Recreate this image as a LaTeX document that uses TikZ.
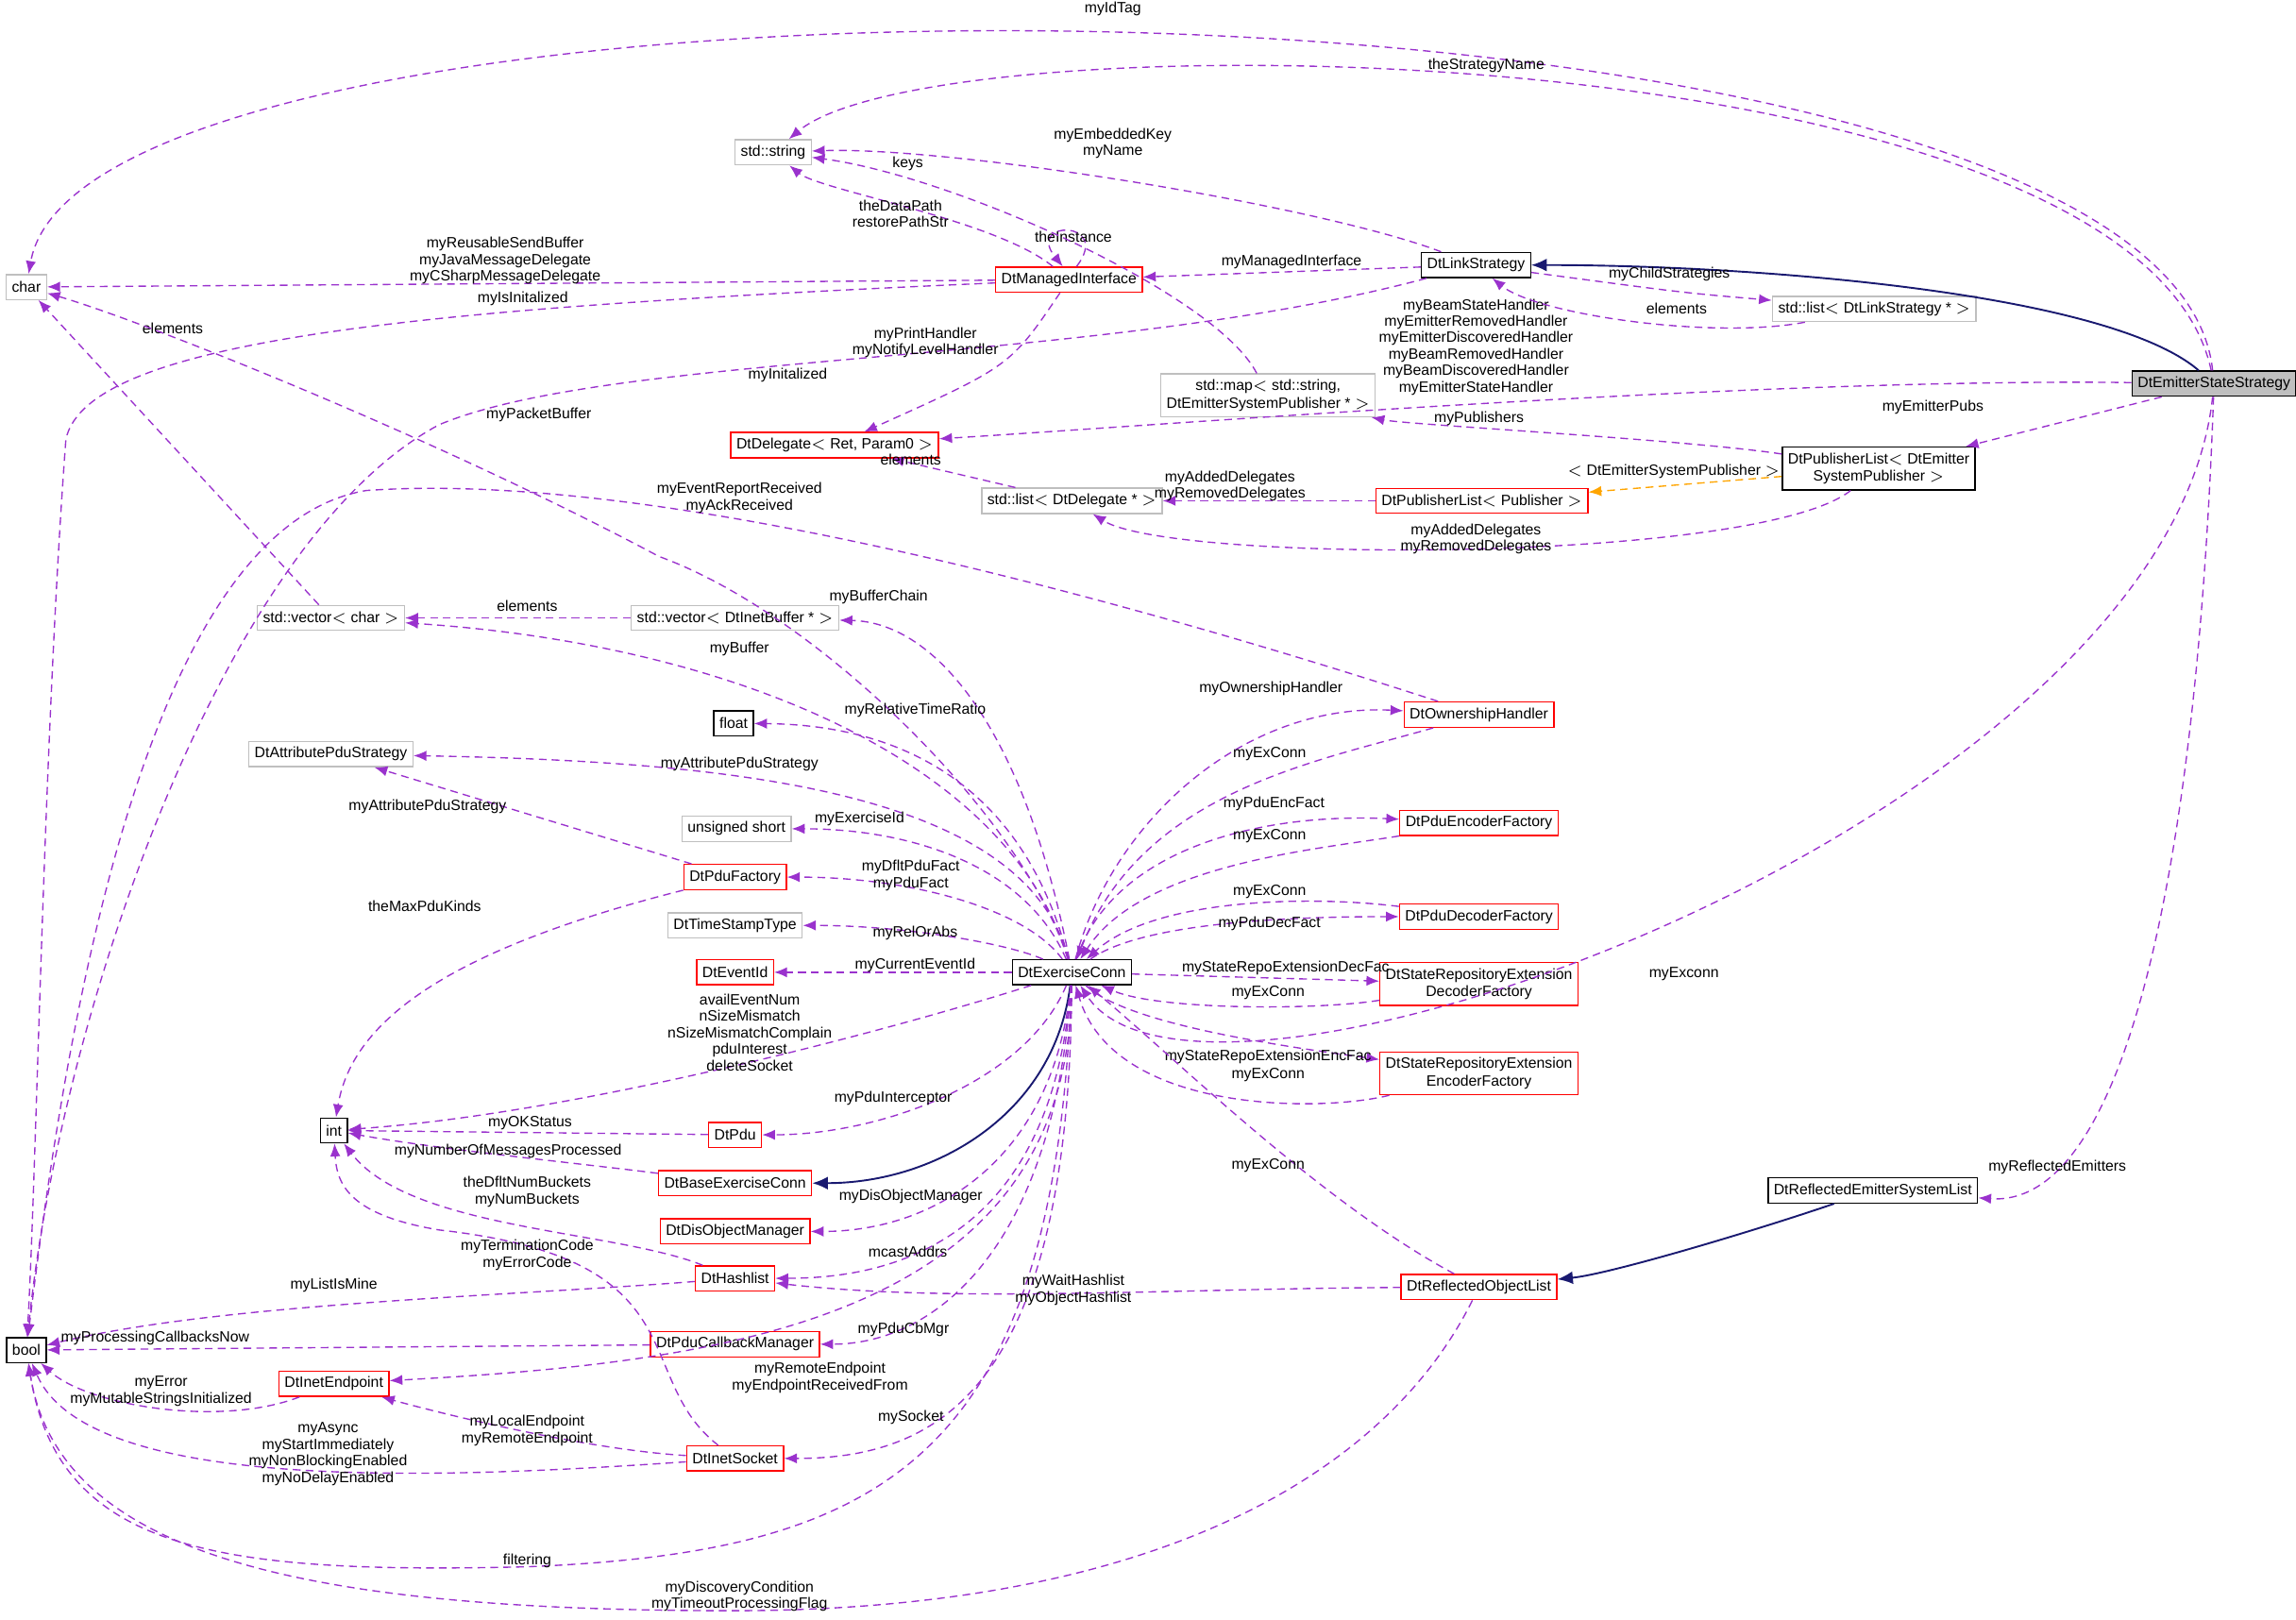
\documentclass[tikz,border=0pt]{standalone}
\usepackage{fontspec}
\setmainfont{Liberation Sans}
\usetikzlibrary{arrows.meta}
\definecolor{pc}{HTML}{9A32CD}
\definecolor{nv}{HTML}{191970}
\definecolor{og}{HTML}{FFA500}
\definecolor{gb}{HTML}{BFBFBF}
\begin{document}
\begin{tikzpicture}[x=0.02cm,y=-0.02cm,
 every node/.style={font=\fontsize{5.8}{6.8}\selectfont},
 box/.style={draw=black,rectangle,inner sep=2.2pt,minimum height=0.34cm,align=center,line width=0.5pt},
 rb/.style={box,draw=red},
 gbx/.style={box,draw=gb},
 ed/.style={draw=pc,dash pattern=on 3pt off 2pt,line width=0.5pt,-{Latex[length=5pt,width=4pt]}},
 inh/.style={draw=nv,line width=0.7pt,-{Latex[length=6pt,width=5pt]}},
 tpl/.style={draw=og,dash pattern=on 3pt off 2pt,line width=0.5pt,-{Latex[length=5pt,width=4pt]}},
 lb/.style={align=center,inner sep=0pt,font=\fontsize{5.8}{6.4}\selectfont}]
\useasboundingbox (0,0) rectangle (1568,1106);
% nodes
\node[gbx] (char) at (18,196) {char};
\node[box] (bool) at (18,922) {bool};
\node[box] (int) at (228,772) {int};
\node[gbx] (str) at (528,104) {std::string};
\node[rb] (mi) at (730,191) {DtManagedInterface};
\node[box] (link) at (1008,181) {DtLinkStrategy};
\node[gbx] (listLS) at (1280,211) {std::list$<$ DtLinkStrategy * $>$};
\node[box,fill=gb] (ess) at (1512,262) {DtEmitterStateStrategy};
\node[gbx] (map) at (866,270) {std::map$<$ std::string,\\ DtEmitterSystemPublisher * $>$};
\node[rb] (dlg) at (570,304) {DtDelegate$<$ Ret, Param0 $>$};
\node[box] (pubE) at (1283,320) {DtPublisherList$<$ DtEmitter\\SystemPublisher $>$};
\node[gbx] (listD) at (732,342) {std::list$<$ DtDelegate * $>$};
\node[rb] (pubP) at (1012,342) {DtPublisherList$<$ Publisher $>$};
\node[gbx] (vchar) at (226,422) {std::vector$<$ char $>$};
\node[gbx] (vbuf) at (502,422) {std::vector$<$ DtInetBuffer * $>$};
\node[box] (float) at (501,494) {float};
\node[rb] (own) at (1010,488) {DtOwnershipHandler};
\node[gbx] (attr) at (226,515) {DtAttributePduStrategy};
\node[gbx] (ushort) at (503,566) {unsigned short};
\node[rb] (enc) at (1010,562) {DtPduEncoderFactory};
\node[rb] (pduF) at (502,599) {DtPduFactory};
\node[gbx] (ts) at (502,632) {DtTimeStampType};
\node[rb] (dec) at (1010,626) {DtPduDecoderFactory};
\node[rb] (evt) at (502,664) {DtEventId};
\node[box] (exc) at (732,664) {DtExerciseConn};
\node[rb] (srdec) at (1010,672) {DtStateRepositoryExtension\\DecoderFactory};
\node[rb] (srenc) at (1010,733) {DtStateRepositoryExtension\\EncoderFactory};
\node[rb] (pdu) at (502,775) {DtPdu};
\node[rb] (base) at (502,808) {DtBaseExerciseConn};
\node[box] (rlist) at (1279,813) {DtReflectedEmitterSystemList};
\node[rb] (dom) at (502,841) {DtDisObjectManager};
\node[rb] (hash) at (502,873) {DtHashlist};
\node[rb] (rol) at (1010,879) {DtReflectedObjectList};
\node[rb] (cb) at (502,918) {DtPduCallbackManager};
\node[rb] (ep) at (228,945) {DtInetEndpoint};
\node[rb] (sock) at (502,996) {DtInetSocket};
% edges
\draw[ed] (ess) .. controls (1480,-40) and (60,-45) .. (char) node[lb] at (760,6) {myIdTag};
\draw[ed] (ess) .. controls (1460,20) and (640,10) .. (str) node[lb] at (1015,45) {theStrategyName};
\draw[inh] (ess) .. controls (1440,200) and (1200,181) .. (link);
\draw[ed] (ess) .. controls (1200,258) and (800,290) .. (dlg) node[lb] at (1008,237) {myBeamStateHandler\\myEmitterRemovedHandler\\myEmitterDiscoveredHandler\\myBeamRemovedHandler\\myBeamDiscoveredHandler\\myEmitterStateHandler};
\draw[ed] (ess) -- (pubE) node[lb] at (1320,278) {myEmitterPubs};
\draw[ed] (ess) .. controls (1480,560) and (820,800) .. (exc) node[lb] at (1150,665) {myExconn};
\draw[ed] (ess) .. controls (1500,600) and (1450,825) .. (rlist) node[lb] at (1405,797) {myReflectedEmitters};
\draw[ed] (link) .. controls (900,140) and (650,100) .. (str) node[lb] at (760,98) {myEmbeddedKey\\myName};
\draw[ed] (link) -- (mi) node[lb] at (882,179) {myManagedInterface};
\draw[ed] (link) .. controls (1150,200) .. (listLS) node[lb] at (1140,187) {myChildStrategies};
\draw[ed] (listLS) .. controls (1170,232) and (1050,215) .. (link) node[lb] at (1145,211) {elements};
\draw[ed] (link) .. controls (750,250) and (420,240) .. (300,290) .. controls (150,370) and (40,700) .. (bool) node[lb] at (538,256) {myInitalized};
\draw[ed] (mi) .. controls (680,150) and (560,130) .. (str) node[lb] at (615,146) {theDataPath\\restorePathStr};
\draw[ed] (mi.60) .. controls (760,150) and (700,150) .. (mi.115) node[lb] at (733,162) {theInstance};
\draw[ed] (mi) -- (char) node[lb] at (345,178) {myReusableSendBuffer\\myJavaMessageDelegate\\myCSharpMessageDelegate};
\draw[ed] (mi) .. controls (300,210) and (60,230) .. (45,300) .. controls (30,500) and (25,800) .. (bool) node[lb] at (357,204) {myIsInitalized};
\draw[ed] (mi) .. controls (690,250) .. (dlg) node[lb] at (632,234) {myPrintHandler\\myNotifyLevelHandler};
\draw[ed] (map) .. controls (830,200) and (650,120) .. (str) node[lb] at (620,112) {keys};
\draw[ed] (pubE) .. controls (1150,300) and (960,290) .. (map) node[lb] at (1010,286) {myPublishers};
\draw[ed] (pubE) .. controls (1200,385) and (800,385) .. (listD) node[lb] at (1008,368) {myAddedDelegates\\myRemovedDelegates};
\draw[tpl] (pubE) -- (pubP) node[lb] at (1143,322) {$<$ DtEmitterSystemPublisher $>$};
\draw[ed] (pubP) -- (listD) node[lb] at (840,332) {myAddedDelegates\\myRemovedDelegates};
\draw[ed] (listD) -- (dlg) node[lb] at (622,314) {elements};
\draw[ed] (vchar) -- (char) node[lb] at (118,224) {elements};
\draw[ed] (vbuf) -- (vchar) node[lb] at (360,414) {elements};
\draw[ed] (exc) .. controls (700,560) and (560,420) .. (450,380) .. controls (300,300) and (100,220) .. (char) node[lb] at (368,283) {myPacketBuffer};
\draw[ed] (own) .. controls (800,420) and (460,320) .. (250,335) .. controls (100,360) and (45,700) .. (bool) node[lb] at (505,340) {myEventReportReceived\\myAckReceived};
\draw[ed] (exc) .. controls (700,500) and (640,425) .. (vbuf) node[lb] at (600,408) {myBufferChain};
\draw[ed] (exc) .. controls (690,520) and (500,440) .. (vchar) node[lb] at (505,443) {myBuffer};
\draw[ed] (exc) .. controls (700,540) and (620,495) .. (float) node[lb] at (625,485) {myRelativeTimeRatio};
\draw[ed] (exc) .. controls (760,560) and (850,480) .. (own) node[lb] at (868,470) {myOwnershipHandler};
\draw[ed] (own) .. controls (900,520) and (780,540) .. (exc) node[lb] at (867,515) {myExConn};
\draw[ed] (exc) .. controls (700,540) and (500,520) .. (attr) node[lb] at (505,522) {myAttributePduStrategy};
\draw[ed] (pduF) -- (attr) node[lb] at (292,551) {myAttributePduStrategy};
\draw[ed] (exc) .. controls (700,590) and (620,566) .. (ushort) node[lb] at (587,559) {myExerciseId};
\draw[ed] (exc) .. controls (760,580) and (860,555) .. (enc) node[lb] at (870,549) {myPduEncFact};
\draw[ed] (enc) .. controls (900,580) and (780,590) .. (exc) node[lb] at (867,571) {myExConn};
\draw[ed] (exc) .. controls (700,620) and (620,599) .. (pduF) node[lb] at (622,598) {myDfltPduFact\\myPduFact};
\draw[ed] (pduF) .. controls (300,650) and (240,700) .. (int) node[lb] at (290,619) {theMaxPduKinds};
\draw[ed] (exc) .. controls (690,645) and (620,632) .. (ts) node[lb] at (625,637) {myRelOrAbs};
\draw[ed] (exc) .. controls (780,630) and (880,626) .. (dec) node[lb] at (867,631) {myPduDecFact};
\draw[ed] (dec) .. controls (900,612) and (790,612) .. (exc) node[lb] at (867,609) {myExConn};
\draw[ed] (exc) -- (evt) node[lb] at (625,659) {myCurrentEventId};
\draw[ed] (exc) -- (srdec) node[lb] at (878,661) {myStateRepoExtensionDecFac};
\draw[ed] (srdec) .. controls (900,690) and (790,690) .. (exc) node[lb] at (866,678) {myExConn};
\draw[ed] (exc) .. controls (770,700) and (880,715) .. (srenc) node[lb] at (866,722) {myStateRepoExtensionEncFac};
\draw[ed] (srenc) .. controls (900,760) and (760,760) .. (exc) node[lb] at (866,734) {myExConn};
\draw[ed] (exc) .. controls (620,700) and (400,760) .. (int) node[lb] at (512,705) {availEventNum\\nSizeMismatch\\nSizeMismatchComplain\\pduInterest\\deleteSocket};
\draw[ed] (exc) .. controls (700,740) and (600,775) .. (pdu) node[lb] at (610,750) {myPduInterceptor};
\draw[ed] (pdu) -- (int) node[lb] at (362,767) {myOKStatus};
\draw[inh] (exc) .. controls (720,760) and (640,808) .. (base);
\draw[ed] (base) .. controls (400,795) and (300,785) .. (int) node[lb] at (347,786) {myNumberOfMessagesProcessed};
\draw[ed] (exc) .. controls (720,790) and (640,841) .. (dom) node[lb] at (622,817) {myDisObjectManager};
\draw[ed] (exc) .. controls (720,820) and (640,873) .. (hash) node[lb] at (620,855) {mcastAddrs};
\draw[ed] (hash) .. controls (420,840) and (280,840) .. (int) node[lb] at (360,814) {theDfltNumBuckets\\myNumBuckets};
\draw[ed] (hash) .. controls (350,885) and (150,890) .. (bool) node[lb] at (228,878) {myListIsMine};
\draw[ed] (sock) .. controls (430,940) and (480,860) .. (300,840) .. controls (240,830) and (230,810) .. (int) node[lb] at (360,857) {myTerminationCode\\myErrorCode};
\draw[ed] (exc) .. controls (720,850) and (640,918) .. (cb) node[lb] at (617,908) {myPduCbMgr};
\draw[ed] (cb) -- (bool) node[lb] at (106,914) {myProcessingCallbacksNow};
\draw[ed] (exc) .. controls (730,900) and (500,930) .. (ep) node[lb] at (560,941) {myRemoteEndpoint\\myEndpointReceivedFrom};
\draw[ed] (ep) .. controls (150,975) and (60,960) .. (bool) node[lb] at (110,950) {myError\\myMutableStringsInitialized};
\draw[ed] (sock) .. controls (400,990) and (300,965) .. (ep) node[lb] at (360,977) {myLocalEndpoint\\myRemoteEndpoint};
\draw[ed] (sock) .. controls (300,1010) and (60,1020) .. (bool) node[lb] at (224,993) {myAsync\\myStartImmediately\\myNonBlockingEnabled\\myNoDelayEnabled};
\draw[ed] (exc) .. controls (730,950) and (640,996) .. (sock) node[lb] at (622,968) {mySocket};
\draw[ed] (exc) .. controls (720,1000) and (600,1060) .. (360,1070) .. controls (150,1075) and (40,1060) .. (bool) node[lb] at (360,1066) {filtering};
\draw[ed] (rol) .. controls (900,820) and (800,720) .. (exc) node[lb] at (866,796) {myExConn};
\draw[ed] (rol) .. controls (800,880) and (650,890) .. (hash) node[lb] at (733,881) {myWaitHashlist\\myObjectHashlist};
\draw[ed] (rol) .. controls (950,1000) and (800,1100) .. (500,1100) .. controls (200,1100) and (40,1060) .. (bool) node[lb] at (505,1090) {myDiscoveryCondition\\myTimeoutProcessingFlag};
\draw[inh] (rlist) .. controls (1200,840) and (1100,870) .. (rol);
\end{tikzpicture}
\end{document}
